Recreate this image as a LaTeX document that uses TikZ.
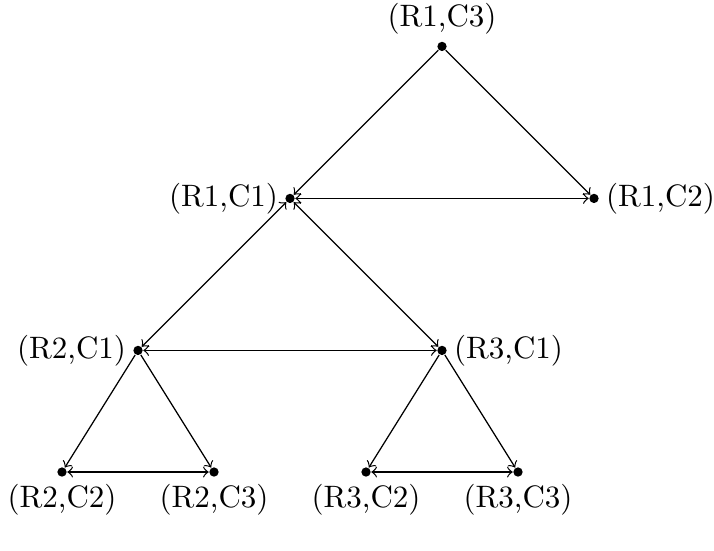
\documentclass[tikz,border=0pt]{standalone}
\begin{document}
\begin{tikzpicture}[x=0.862cm, y=0.862cm,
    dot/.style={circle, fill=black, inner sep=0pt, minimum size=3pt},
    every label/.style={inner sep=2pt}]
    \useasboundingbox (-0.816,-1.039) rectangle (8.579,6.211);

    % Vertices
    \node[dot, label=above:{(R1,C3)}] (r1c3) at (5,5.6) {};
    \node[dot, label=left:{(R1,C1)}] (r1c1) at (3,3.6) {};
    \node[dot, label=right:{(R1,C2)}] (r1c2) at (7,3.6) {};
    \node[dot, label=left:{(R2,C1)}] (r2c1) at (1,1.6) {};
    \node[dot, label=right:{(R3,C1)}] (r3c1) at (5,1.6) {};
    \node[dot, label=below:{(R2,C2)}] (r2c2) at (0,0) {};
    \node[dot, label=below:{(R2,C3)}] (r2c3) at (2,0) {};
    \node[dot, label=below:{(R3,C2)}] (r3c2) at (4,0) {};
    \node[dot, label=below:{(R3,C3)}] (r3c3) at (6,0) {};

    % One-way edges
    \foreach \a/\b in {r1c3/r1c1, r1c3/r1c2, r2c1/r2c2, r2c1/r2c3, r3c1/r3c2, r3c1/r3c3}
        \draw[->] (\a) -- (\b);

    % Two-way edges
    \foreach \a/\b in {r1c1/r1c2, r1c1/r2c1, r1c1/r3c1, r2c1/r3c1, r2c2/r2c3, r3c2/r3c3}
        \draw[<->] (\a) -- (\b);
\end{tikzpicture}
\end{document}
